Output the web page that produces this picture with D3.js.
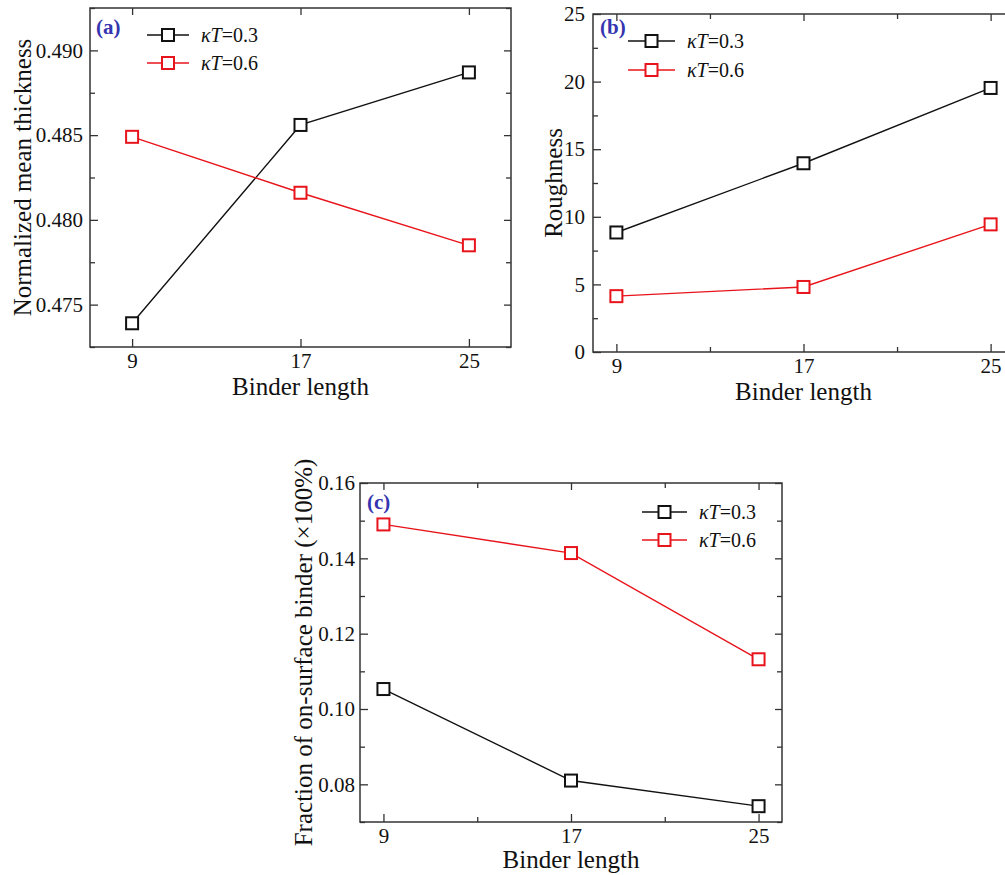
<!DOCTYPE html>
<html>
<head>
<meta charset="utf-8">
<style>
  body { margin: 0; background: #fff; }
  text { font-family: "Liberation Serif", "Times New Roman", serif; fill: #111; }
</style>
</head>
<body>
<svg id="fig" width="1005" height="875"></svg>
<script src="https://d3js.org/d3.v7.min.js"></script>
<script>
// data
const binderLength = [9, 17, 25];
const seriesNames = ["0.3", "0.6"];
const seriesColors = ["#111111", "#e8141b"];

const thickness03 = [0.4739, 0.4856, 0.4887];
const thickness06 = [0.4849, 0.4816, 0.4785];
const roughness03 = [8.84, 13.96, 19.53];
const roughness06 = [4.13, 4.81, 9.44];
const fraction03 = [0.1053, 0.0810, 0.0742];
const fraction06 = [0.1490, 0.1414, 0.1132];

const xTicks = [9, 17, 25];
const xMinorTicks = [13, 21];
const thicknessTicks = [0.475, 0.480, 0.485, 0.490];
const thicknessMinor = [0.4725, 0.4775, 0.4825, 0.4875, 0.4925];
const roughnessTicks = [0, 5, 10, 15, 20, 25];
const roughnessMinor = [2.5, 7.5, 12.5, 17.5, 22.5];
const fractionTicks = [0.08, 0.10, 0.12, 0.14, 0.16];
const fractionMinor = [0.07, 0.09, 0.11, 0.13, 0.15];

const serif = '"Liberation Serif", "Times New Roman", serif';
const svg = d3.select("#fig");

const panels = [
  { tag: "(a)", left: 90, right: 511, top: 8, bottom: 347,
    xDom: [7, 27], yDom: [0.4725, 0.4925], xMinor: [],
    yTicks: thicknessTicks, yMinor: thicknessMinor, fmt: d3.format(".3f"),
    series: [thickness03, thickness06],
    yTitle: "Normalized mean thickness", yTitleX: 22, xTitleY: 395, tickPad: 7,
    tagX: 96, tagY: 34, legX: 147, legLen: 42, legY: [35, 63] },
  { tag: "(b)", left: 593, right: 1014, top: 14, bottom: 352,
    xDom: [8, 26], yDom: [0, 25], xMinor: xMinorTicks,
    yTicks: roughnessTicks, yMinor: roughnessMinor, fmt: d3.format("d"),
    series: [roughness03, roughness06],
    yTitle: "Roughness", yTitleX: 553, xTitleY: 400, tickPad: 8,
    tagX: 600, tagY: 34, legX: 628, legLen: 47, legY: [41, 70] },
  { tag: "(c)", left: 360, right: 782, top: 483, bottom: 822,
    xDom: [8, 26], yDom: [0.07, 0.16], xMinor: xMinorTicks,
    yTicks: fractionTicks, yMinor: fractionMinor, fmt: d3.format(".2f"),
    series: [fraction03, fraction06],
    yTitle: "Fraction of on-surface binder (\u00d7100%)", yTitleX: 303, xTitleY: 868, tickPad: 5,
    tagX: 367, tagY: 509, legX: 642, legLen: 45, legY: [512, 540] }
];

panels.forEach(p => {
  const x = d3.scaleLinear().domain(p.xDom).range([p.left, p.right]);
  const y = d3.scaleLinear().domain(p.yDom).range([p.bottom, p.top]);
  const g = svg.append("g");

  // ticks on all four sides, pointing inward
  const axes = [
    [d3.axisBottom(x).tickValues(xTicks).tickSize(-8).tickPadding(6).tickFormat(d3.format("d")), `translate(0,${p.bottom})`],
    [d3.axisBottom(x).tickValues(p.xMinor).tickSize(-5).tickFormat(""), `translate(0,${p.bottom})`],
    [d3.axisTop(x).tickValues(xTicks).tickSize(-7).tickFormat(""), `translate(0,${p.top})`],
    [d3.axisTop(x).tickValues(p.xMinor).tickSize(-5).tickFormat(""), `translate(0,${p.top})`],
    [d3.axisLeft(y).tickValues(p.yTicks).tickSize(-8).tickPadding(p.tickPad).tickFormat(p.fmt), `translate(${p.left},0)`],
    [d3.axisLeft(y).tickValues(p.yMinor).tickSize(-5).tickFormat(""), `translate(${p.left},0)`],
    [d3.axisRight(y).tickValues(p.yTicks).tickSize(-7).tickFormat(""), `translate(${p.right},0)`],
    [d3.axisRight(y).tickValues(p.yMinor).tickSize(-5).tickFormat(""), `translate(${p.right},0)`]
  ];
  axes.forEach(([ax, tr]) => {
    const a = g.append("g").attr("transform", tr).call(ax);
    a.select(".domain").remove();
    a.selectAll(".tick line").attr("stroke", "#333").attr("stroke-width", 1.3);
    a.selectAll("text").style("font-family", serif).style("font-size", "21px").style("fill", "#111");
  });

  g.append("rect")
    .attr("x", p.left).attr("y", p.top)
    .attr("width", p.right - p.left).attr("height", p.bottom - p.top)
    .attr("fill", "none").attr("stroke", "#333").attr("stroke-width", 1.5);

  // axis titles
  g.append("text")
    .attr("x", (p.left + p.right) / 2).attr("y", p.xTitleY)
    .attr("text-anchor", "middle").attr("font-size", 25)
    .text("Binder length");
  g.append("text")
    .attr("transform", `translate(${p.yTitleX},${(p.top + p.bottom) / 2}) rotate(-90)`)
    .attr("dy", "0.35em").attr("text-anchor", "middle").attr("font-size", 25)
    .text(p.yTitle);

  // series
  const line = d3.line().x((d, i) => x(binderLength[i])).y(d => y(d));
  p.series.forEach((vals, si) => {
    g.append("path").datum(vals)
      .attr("d", line).attr("fill", "none")
      .attr("stroke", seriesColors[si]).attr("stroke-width", 1.4);
    g.selectAll(null).data(vals).enter().append("rect")
      .attr("x", (d, i) => x(binderLength[i]) - 6)
      .attr("y", d => y(d) - 6)
      .attr("width", 12).attr("height", 12)
      .attr("fill", "#fff").attr("stroke", seriesColors[si]).attr("stroke-width", 2);
  });

  // panel tag
  g.append("text").attr("x", p.tagX).attr("y", p.tagY)
    .attr("font-size", 21).attr("font-weight", "bold")
    .style("fill", "#3535b0").text(p.tag);

  // legend
  seriesNames.forEach((name, si) => {
    const ly = p.legY[si];
    g.append("line")
      .attr("x1", p.legX).attr("x2", p.legX + p.legLen)
      .attr("y1", ly).attr("y2", ly)
      .attr("stroke", seriesColors[si]).attr("stroke-width", 1.4);
    g.append("rect")
      .attr("x", p.legX + p.legLen / 2 - 6).attr("y", ly - 6)
      .attr("width", 12).attr("height", 12)
      .attr("fill", "#fff").attr("stroke", seriesColors[si]).attr("stroke-width", 2);
    const t = g.append("text")
      .attr("x", p.legX + p.legLen + 12).attr("y", ly + 7)
      .attr("font-size", 20);
    t.append("tspan").attr("font-style", "italic").text("\u03baT");
    t.append("tspan").text("=" + name);
  });
});
</script>
</body>
</html>
